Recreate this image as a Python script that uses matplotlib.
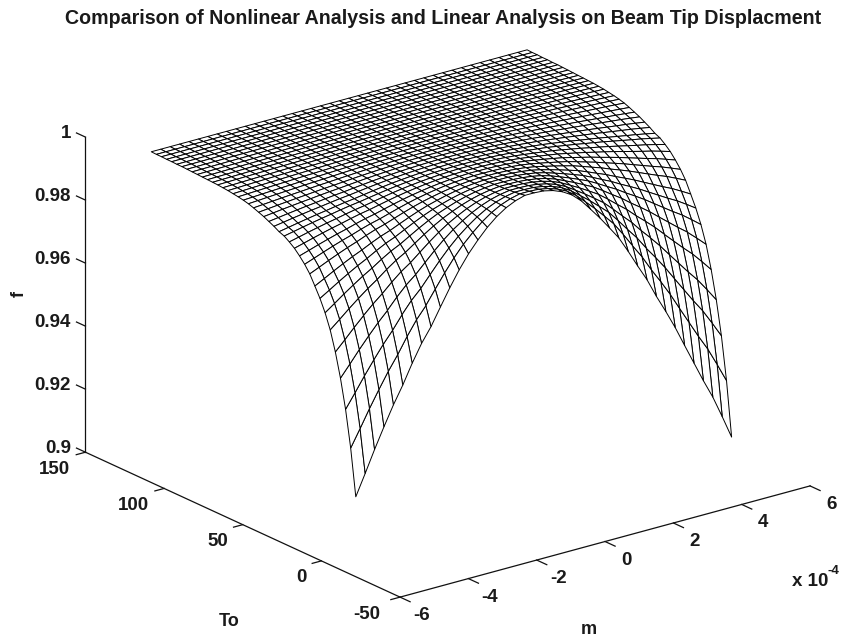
"""
Mesh of the nonlinear / linear beam tip displacement ratio.
"""
import numpy as np
import matplotlib
matplotlib.use("Agg")
import matplotlib.pyplot as plt
from mpl_toolkits.mplot3d import proj3d

# surface extent
m_range = [-5.5, 5.5]
to_range = [-11, 119]
grid_lines = 41
f_top = 1.001

# drop of f below f_top along the To = low edge, one value per m line
m_drop = [
    .0796, .0730, .0662, .0598, .0537, .0482, .0421, .0366, .0321, .0267, .0214,
    .0165, .0122, .0086, .0054, .0028, .0008, -.0006, -.0015, -.0015, -.0013,
    -.0006, .0006, .0024, .0051, .0086, .0122, .0161, .0201, .0252, .0306,
    .0358, .0419, .0475, .0534, .0599, .0663, .0727, .0787, .0857, .0930,
]
# share of that drop left at each To line, low To first
to_share = [
    1.0, .815, .670, .555, .460, .382, .323, .275, .235, .196, .167,
    .143, .122, .106, .092, .084, .072, .062, .052, .044, .036,
    .029, .024, .020, .017, .014, .012, .010, .009, .008, .007,
    .006, .005, .004, .003, .003, .002, .002, .001, .001, 0.0,
]

m_ticks = [-6, -4, -2, 0, 2, 4, 6]
to_ticks = [-50, 0, 50, 100, 150]
f_ticks = [0.9, 0.92, 0.94, 0.96, 0.98, 1]
f_labels = ["0.9", "0.92", "0.94", "0.96", "0.98", "1"]

plt.rcParams["font.family"] = ["Liberation Sans", "DejaVu Sans"]
plt.rcParams["font.weight"] = "bold"

W, H = 851, 638
fig = plt.figure(figsize=(W / 100, H / 100), dpi=100)
ax = fig.add_axes([10.75 / W, -110.5 / H, 1, W / H], projection="3d",
                  proj_type="ortho", computed_zorder=False)
ax.view_init(elev=20.7, azim=-127.5)
ax.set_box_aspect((517, 517, 337), zoom=0.918)

M, T = np.meshgrid(np.linspace(*m_range, grid_lines), np.linspace(*to_range, grid_lines))
Z = f_top - np.outer(to_share, m_drop)

# white faces hide the part of the mesh behind the ridge
ax.plot_surface(M, T, Z, rstride=1, cstride=1, color="white", edgecolor="black",
                linewidth=0.7, shade=False, antialiased=True, zorder=3)

line = dict(color="#111111", lw=0.9, zorder=2)
ax.plot([-6, 6], [-50, -50], [0.9, 0.9], **line)
ax.plot([-6, -6], [-50, 150], [0.9, 0.9], **line)
ax.plot([-6, -6], [150, 150], [0.9, 1], **line)
for v in m_ticks:
    ax.plot([v, v], [-50, -56.4], [0.9, 0.9], **line)
for v in to_ticks:
    ax.plot([-6, -6.27], [v, v], [0.9, 0.9], **line)
for v in f_ticks:
    ax.plot([-6, -6], [150, 155.7], [v, v], **line)

ax.set_xlim(-6, 6, view_margin=0)
ax.set_ylim(-50, 150, view_margin=0)
ax.set_zlim(0.9, 1, view_margin=0)
ax.set_axis_off()


def label(text, x, y, z, dx, dy, ha="center", size=13.5):
    # place a label a few pixels away from a point of the box
    x2, y2, _ = proj3d.proj_transform(x, y, z, ax.get_proj())
    ax.annotate(text, (x2, y2), xytext=(dx, -dy), textcoords="offset pixels",
                ha=ha, va="center", fontsize=size, annotation_clip=False, color="#1a1a1a")


for v in m_ticks:
    label(str(v), v, -50, 0.9, 21.5, 18.5)
for v in to_ticks:
    label(str(v), -6, v, 0.9, -20 if v == -50 else -15, 17, ha="right")
for v, s in zip(f_ticks, f_labels):
    label(s, -6, 150, v, -14.5, -4, ha="right")

fig.text(443 / W, 1 - 18.5 / H, "Comparison of Nonlinear Analysis and Linear Analysis on Beam Tip Displacment",
         ha="center", va="center", fontsize=14.15, color="#1a1a1a")
fig.text(229 / W, 1 - 621.5 / H, "To", ha="center", va="center", fontsize=13, color="#1a1a1a")
fig.text(589 / W, 1 - 629 / H, "m", ha="center", va="center", fontsize=13, color="#1a1a1a")
fig.text(19.5 / W, 1 - 294 / H, "f", ha="center", va="center", rotation=90, fontsize=13, color="#1a1a1a")
fig.text(791.5 / W, 1 - 586 / H, "x 10", ha="left", va="baseline", fontsize=13.5, color="#1a1a1a")
fig.text(827 / W, 1 - 574 / H, "-4", ha="left", va="baseline", fontsize=9.5, color="#1a1a1a")

fig.savefig("out.png", dpi=100)
